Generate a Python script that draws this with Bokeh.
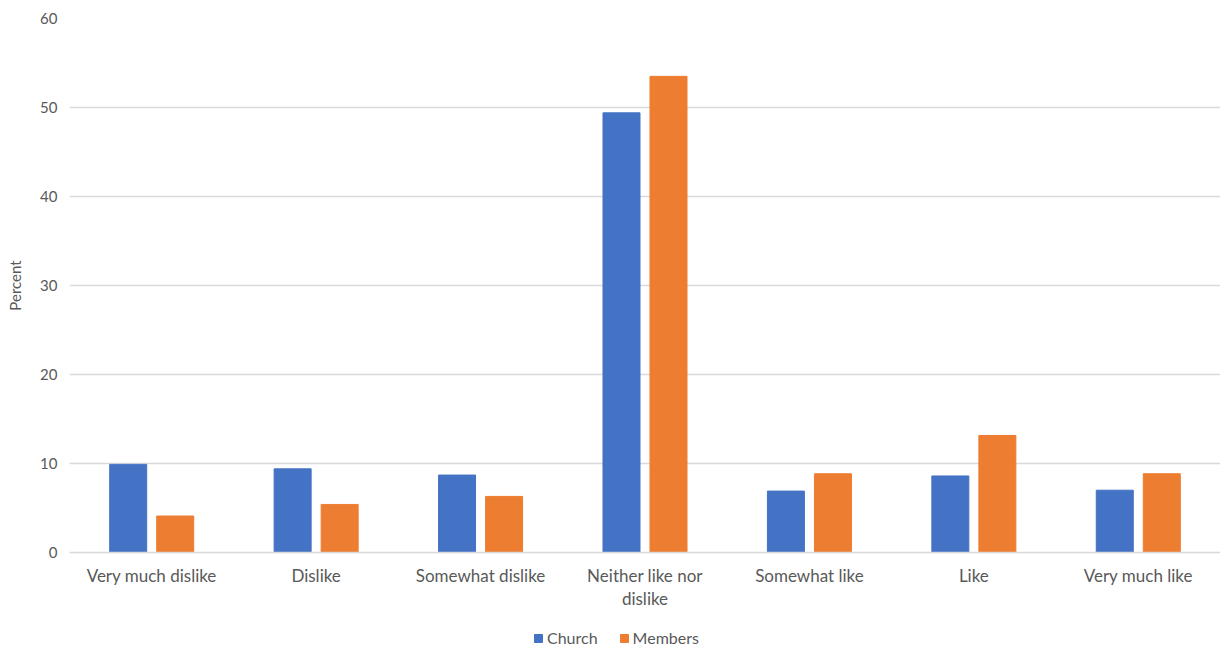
from bokeh.plotting import figure
from bokeh.layouts import column
from bokeh.models import ColumnDataSource, Legend, LegendItem, FixedTicker
from bokeh.transform import dodge
from bokeh.embed import file_html
from bokeh.resources import INLINE

categories = ["Very much dislike", "Dislike", "Somewhat dislike", "Neither like nor\ndislike",
              "Somewhat like", "Like", "Very much like"]
church = [9.9, 9.4, 8.7, 49.4, 6.9, 8.6, 7.0]
members = [4.1, 5.4, 6.3, 53.5, 8.85, 13.15, 8.85]
y_ticks = [0, 10, 20, 30, 40, 50, 60]
series_names = ["Church", "Members"]

BLUE = "#4472C4"
ORANGE = "#ED7D31"
GRID = "#D9D9D9"
TEXT = "#595959"
FONT = "Lato"

src = ColumnDataSource(dict(cat=categories, church=church, members=members))

p = figure(x_range=categories, y_range=(0, 60), width=1220, height=614,
           output_backend="svg", toolbar_location=None,
           min_border_left=69, min_border_top=18, min_border_right=0, min_border_bottom=62)
p.outline_line_color = None

p.vbar(x=dodge("cat", -0.143, range=p.x_range), top="church", width=0.225,
       source=src, color=BLUE)
p.vbar(x=dodge("cat", 0.143, range=p.x_range), top="members", width=0.225,
       source=src, color=ORANGE)

p.xgrid.grid_line_color = None
p.ygrid.grid_line_color = GRID
p.ygrid.grid_line_width = 1.5
p.yaxis.ticker = FixedTicker(ticks=y_ticks)

p.yaxis.axis_line_color = None
p.yaxis.major_tick_line_color = None
p.yaxis.minor_tick_line_color = None
p.yaxis.major_label_standoff = 6
p.yaxis.axis_label = "Percent"
p.yaxis.axis_label_text_font_style = "normal"
p.yaxis.axis_label_text_font_size = "15px"
p.yaxis.axis_label_text_color = TEXT
p.yaxis.axis_label_text_font = FONT
p.yaxis.axis_label_standoff = 13

p.xaxis.axis_line_color = GRID
p.xaxis.axis_line_width = 1.5
p.xaxis.major_tick_line_color = None
p.xaxis.minor_tick_line_color = None
p.xaxis.major_label_standoff = 6
p.xaxis.major_label_text_line_height = 1.1

p.yaxis.major_label_text_font = FONT
p.yaxis.major_label_text_font_size = "15px"
p.yaxis.major_label_text_color = TEXT
p.xaxis.major_label_text_font = FONT
p.xaxis.major_label_text_font_size = "17px"
p.xaxis.major_label_text_color = TEXT

# legend strip
p2 = figure(width=1220, height=33, x_range=(0, 1), y_range=(0, 1),
            output_backend="svg", toolbar_location=None, min_border=0)
p2.outline_line_color = None
p2.axis.visible = False
p2.grid.grid_line_color = None
l1 = p2.vbar(x=[0.5], bottom=[-3], top=[-2], width=0.1, color=BLUE)
l2 = p2.vbar(x=[0.5], bottom=[-3], top=[-2], width=0.1, color=ORANGE)

legend = Legend(items=[LegendItem(label=series_names[0], renderers=[l1]),
                       LegendItem(label=series_names[1], renderers=[l2])],
                orientation="horizontal", location=(464, 0))
legend.border_line_color = None
legend.background_fill_alpha = 0
legend.label_text_font = FONT
legend.label_text_font_size = "16px"
legend.label_text_color = TEXT
legend.glyph_width = 10
legend.glyph_height = 10
legend.label_standoff = 4
legend.spacing = 21
legend.margin = 0
legend.padding = 0
p2.add_layout(legend, "center")

layout = column(p, p2, spacing=0)
open("out.html", "w").write(file_html(layout, INLINE))
